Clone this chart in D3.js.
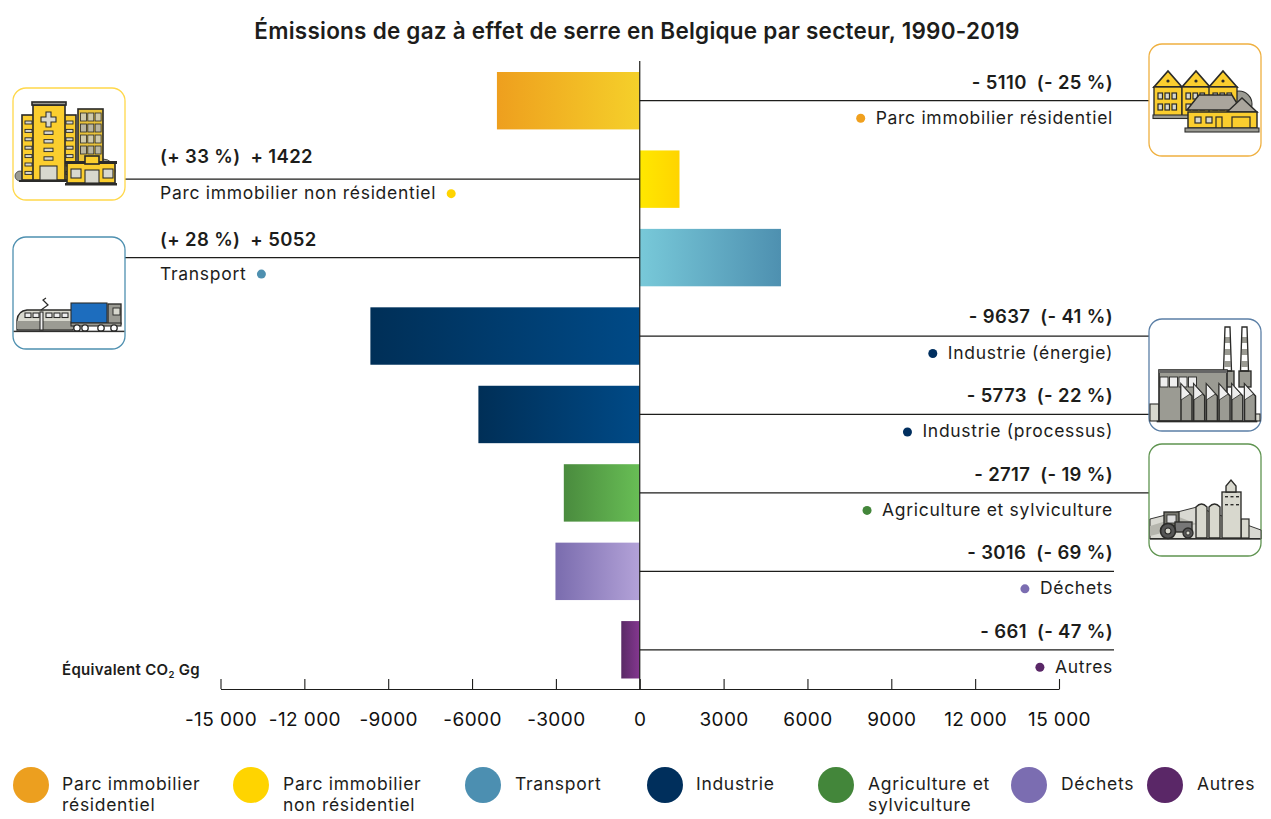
<!DOCTYPE html>
<html>
<head>
<meta charset="utf-8">
<script src="https://cdn.jsdelivr.net/npm/d3@7"></script>
<style>
  html, body { margin: 0; padding: 0; background: #fff; }
  svg { display: block; }
  text { font-family: Inter, "Noto Sans", sans-serif; fill: #1d1d1b; white-space: pre; }
  .val { font-size: 18.5px; font-weight: 600; letter-spacing: 0.35px; }
  .name { font-size: 17.5px; font-weight: 400; letter-spacing: 0.7px; }
  .tick text { font-size: 19px; font-weight: 400; fill: #111; letter-spacing: 0.4px; }
</style>
</head>
<body>
<div id="chart"></div>
<script>
// data
var categories = ["Parc immobilier résidentiel", "Parc immobilier non résidentiel", "Transport",
    "Industrie (énergie)", "Industrie (processus)", "Agriculture et sylviculture", "Déchets", "Autres"];
var values = [-5110, 1422, 5052, -9637, -5773, -2717, -3016, -661];
var percents = [-25, 33, 28, -41, -22, -19, -69, -47];
var barFrom = ["#EE9F1E", "#FFE800", "#78C9D9", "#002F57", "#002F57", "#4A8B3E", "#7A6CAE", "#5A2A66"];
var barTo = ["#F5D02A", "#FFD400", "#4E90B0", "#004A87", "#004A87", "#68BE55", "#B3A2D8", "#843790"];
var dotColors = ["#F0A01E", "#FFD400", "#4E90B0", "#002F5F", "#002F5F", "#43863A", "#7B6DB1", "#5A2767"];
var xTicks = [-15000, -12000, -9000, -6000, -3000, 0, 3000, 6000, 9000, 12000, 15000];
var xTickLabels = ["-15 000", "-12 000", "-9000", "-6000", "-3000", "0", "3000", "6000", "9000", "12 000", "15 000"];
var legendNames = [["Parc immobilier", "résidentiel"], ["Parc immobilier", "non résidentiel"], ["Transport"],
    ["Industrie"], ["Agriculture et", "sylviculture"], ["Déchets"], ["Autres"]];
var legendColors = ["#EC9F1F", "#FFD400", "#4C8FB1", "#002F5C", "#43863A", "#7B6DB1", "#5A2767"];

var width = 1271, height = 819;
var svg = d3.select("#chart").append("svg").attr("width", width).attr("height", height);
var defs = svg.append("defs");

var x = d3.scaleLinear().domain([-15000, 15000]).range([220.5, 1059]);
var y = d3.scaleBand().domain(categories).range([72, 678.5]).paddingInner(0.268);

// title
svg.append("text").attr("x", 637).attr("y", 39).attr("text-anchor", "middle")
    .style("font-size", "22.5px").style("font-weight", "600").style("letter-spacing", "0.24px")
    .text("Émissions de gaz à effet de serre en Belgique par secteur, 1990-2019");

// gradients, one per bar
categories.forEach(function (c, i) {
    var g = defs.append("linearGradient").attr("id", "bar" + i);
    g.append("stop").attr("offset", "0%").attr("stop-color", barFrom[i]);
    g.append("stop").attr("offset", "100%").attr("stop-color", barTo[i]);
});

// bars
svg.append("g").selectAll("rect").data(values).enter().append("rect")
    .attr("x", function (d) { return Math.min(x(d), x(0)); })
    .attr("y", function (d, i) { return y(categories[i]); })
    .attr("width", function (d) { return Math.abs(x(d) - x(0)); })
    .attr("height", y.bandwidth())
    .attr("fill", function (d, i) { return "url(#bar" + i + ")"; });

// leader lines and labels
var hasIcon = [true, true, true, true, true, true, false, false];
var valueShift = [0, -4, 0, -1, 0, 0, 0, 0];   // the second label sits a bit higher
var nameShift = [0, -3, -1, 0, 0, 0, 0, 0];
function valueText(i) {
    var v = Math.abs(values[i]), p = Math.abs(percents[i]);
    if (values[i] > 0) return "(+ " + p + " %)  + " + v;
    return "- " + v + "  (- " + p + " %)";
}
categories.forEach(function (c, i) {
    var cy = y(c) + y.bandwidth() / 2;
    var right = values[i] < 0;
    svg.append("line")
        .attr("x1", right ? x(0) : 125)
        .attr("x2", right ? (hasIcon[i] ? 1149 : 1114) : x(0))
        .attr("y1", cy).attr("y2", cy)
        .attr("stroke", "#1d1d1b").attr("stroke-width", 1.2);
    var tx = right ? 1113 : 160;
    var anchor = right ? "end" : "start";
    svg.append("text").attr("class", "val").attr("x", tx).attr("y", cy - 12 + valueShift[i])
        .attr("text-anchor", anchor).text(valueText(i));
    var name = svg.append("text").attr("class", "name").attr("x", tx).attr("y", cy + 23 + nameShift[i])
        .attr("text-anchor", anchor).text(c);
    var w = name.node().getComputedTextLength();
    svg.append("circle")
        .attr("cx", right ? tx - w - 15 : tx + w + 15)
        .attr("cy", cy + 17.5 + nameShift[i]).attr("r", 4.5)
        .attr("fill", dotColors[i]);
});

// axis
var axis = d3.axisBottom(x).tickValues(xTicks)
    .tickFormat(function (d, i) { return xTickLabels[i]; })
    .tickSize(-10).tickSizeOuter(0).tickPadding(24);
var axisG = svg.append("g").attr("transform", "translate(0,689)").call(axis);
axisG.selectAll("path, line").attr("stroke", "#1d1d1b").attr("stroke-width", 1.1);

// zero line
svg.append("line").attr("x1", x(0)).attr("x2", x(0)).attr("y1", 61).attr("y2", 689)
    .attr("stroke", "#1d1d1b").attr("stroke-width", 1.2);

// unit label
var unit = svg.append("text").attr("x", 62).attr("y", 675)
    .style("font-size", "15px").style("font-weight", "600").style("letter-spacing", "0.3px");
unit.append("tspan").text("Équivalent CO");
unit.append("tspan").attr("dy", 3).style("font-size", "9.5px").text("2");
unit.append("tspan").attr("dy", -3).text(" Gg");

// legend
var legendDotX = [31, 251, 483, 665, 836, 1029, 1165];
var legendTextX = [62, 283, 515, 696, 868, 1061, 1197];
legendNames.forEach(function (lines, i) {
    svg.append("circle").attr("cx", legendDotX[i]).attr("cy", 785).attr("r", 18).attr("fill", legendColors[i]);
    lines.forEach(function (t, j) {
        svg.append("text").attr("class", "name").attr("x", legendTextX[i]).attr("y", 790 + j * 21).text(t);
    });
});

// icons
var ink = "#2b2b29", yel = "#FBCE2E", gry = "#9b9b93", lgt = "#d8d8ce";
var sk = 1.35;
function iconBox(bx, by, color) {
    svg.append("rect").attr("x", bx).attr("y", by).attr("width", 112).attr("height", 112)
        .attr("rx", 13).attr("fill", "#fff").attr("stroke", color).attr("stroke-width", 1.3);
    return svg.append("g").attr("transform", "translate(" + bx + "," + by + ")");
}
function box(g, a, b, w, h, fill, sw) {
    return g.append("rect").attr("x", a).attr("y", b).attr("width", w).attr("height", h)
        .attr("fill", fill).attr("stroke", ink).attr("stroke-width", (sw === undefined ? 1.2 : sw) * sk);
}
function poly(g, pts, fill, sw) {
    return g.append("polygon").attr("points", pts).attr("fill", fill)
        .attr("stroke", ink).attr("stroke-width", (sw === undefined ? 1.2 : sw) * sk);
}
function disc(g, a, b, r, fill, sw) {
    return g.append("circle").attr("cx", a).attr("cy", b).attr("r", r).attr("fill", fill)
        .attr("stroke", ink).attr("stroke-width", (sw === undefined ? 1.2 : sw) * sk);
}
function blob(g, d, fill, sw) {
    return g.append("path").attr("d", d).attr("fill", fill)
        .attr("stroke", ink).attr("stroke-width", sw * sk);
}

// hospital and shop
var g1 = iconBox(13, 88, "#FFD84A");
disc(g1, 90, 83, 12, gry, 0.6);
disc(g1, 7, 88, 5, gry, 0.5);
box(g1, 9, 27, 54, 65, yel);
box(g1, 20, 17, 32, 75, yel);
box(g1, 19, 14, 34, 3, gry);
d3.range(7).forEach(function (k) {
    box(g1, 12, 33 + k * 8.4, 7, 3, lgt, 0.7);
    box(g1, 53, 33 + k * 8.4, 7, 3, lgt, 0.7);
});
d3.range(4).forEach(function (k) { box(g1, 31, 43 + k * 8.6, 9, 3.4, lgt, 0.7); });
blob(g1, "M33 24h5v5h5v5h-5v5h-5v-5h-5v-5h5z", lgt, 0.8);
box(g1, 27, 78, 17, 14, lgt, 0.8);
box(g1, 65, 21, 25, 55, "#E9C33A");
d3.range(4).forEach(function (r) {
    d3.range(3).forEach(function (c) { box(g1, 67.5 + c * 7.3, 25 + r * 11, 6, 8, r % 2 ? "#b9b5a0" : "#cfc9aa", 0.6); });
});
box(g1, 6, 92, 56, 2, ink, 0);
box(g1, 54, 75, 48, 20, yel);
box(g1, 52, 73, 52, 3, ink, 0);
box(g1, 72, 68, 14, 8, yel);
box(g1, 58, 81, 10, 9, lgt, 0.8);
box(g1, 72, 82, 14, 13, lgt, 0.8);
box(g1, 90, 81, 10, 9, lgt, 0.8);
box(g1, 52, 95, 52, 2.5, ink, 0);

// train and truck
var g2 = iconBox(13, 237, "#4E90B0");
blob(g2, "M4 93v-10q1-9 10-10h46v20z", lgt, 1);
g2.append("rect").attr("x", 4).attr("y", 84).attr("width", 56).attr("height", 8).attr("fill", gry);
[12, 20, 33, 41, 49].forEach(function (a) { box(g2, a, 76, 6, 4.5, "#eee", 0.8); });
box(g2, 27, 75, 3, 18, "#eee", 0.8);
blob(g2, "M28 73l7-5-5-5 3-2", "none", 0.9);
box(g2, 58, 66, 36, 20, "#1D6DBE", 0.8);
box(g2, 95, 67, 13, 20, gry, 1);
box(g2, 100, 71, 7, 7, lgt, 0.7);
box(g2, 58, 86, 50, 3, gry, 0.8);
[64, 72, 88, 101].forEach(function (a) { disc(g2, a, 91, 3.2, "#fff", 1); });
box(g2, 1, 94, 110, 0.8, ink, 0.5);

// houses
var g3 = iconBox(1149, 44, "#EFB040");
disc(g3, 90, 60, 13, gry, 0.8);
[19, 47, 74].forEach(function (p) {
    poly(g3, (p - 14) + ",43 " + p + ",27 " + (p + 14) + ",43", yel, 1.3);
    box(g3, p - 14, 43, 28, 29, yel, 1);
    disc(g3, p, 37, 1.6, ink, 0);
    [-10, -3, 4].forEach(function (o) {
        box(g3, p + o, 49, 4.5, 6, lgt, 0.9);
        box(g3, p + o, 60, 4.5, 6, lgt, 0.9);
    });
});
box(g3, 4, 71, 85, 3.5, gry, 0.8);
poly(g3, "38,66 50,51 83,51 92,66", "#aaa59c", 1.1);
poly(g3, "78,68 93,54 108,68", "#aaa59c", 1.1);
box(g3, 39, 68, 69, 16, yel, 1.1);
box(g3, 46, 73, 6, 6, lgt, 0.9);
box(g3, 57, 73, 6, 6, lgt, 0.9);
box(g3, 67, 73, 6, 11, yel, 0.9);
box(g3, 83, 73, 18, 11, yel, 0.9);
box(g3, 36, 84, 74, 4, gry, 0.8);

// factory
var g4 = iconBox(1149, 319, "#5B7FA6");
box(g4, 1, 85, 9, 17, lgt, 0.8);
box(g4, 104, 95, 7, 7, lgt, 0.8);
[75, 92].forEach(function (a) {
    box(g4, a - 2, 52, 12, 16, gry, 1);
    [18, 30, 42].forEach(function (b) {
        box(g4, a + 0.6, b, 6, 6, gry, 0);
    });
    poly(g4, (a + 1) + ",8 " + (a + 6) + ",8 " + (a + 7.5) + ",52 " + (a - 0.5) + ",52", "none", 1);
});
box(g4, 10, 51, 68, 51, gry, 1.2);
box(g4, 10, 51, 68, 3, "#666", 0);
d3.range(4).forEach(function (k) { box(g4, 11 + k * 9.5, 58, 8, 10, "#eee", 0.7); });
d3.range(6).forEach(function (k) {
    var a = 32 + k * 12.7;
    poly(g4, a + ",65 " + (a + 11) + ",77 " + (a + 11) + ",102 " + a + ",102", gry, 1.1);
    poly(g4, a + ",65 " + (a + 9) + ",75 " + a + ",81", "#eee", 0.6);
});
box(g4, 8, 102, 100, 1, ink, 0.5);

// farm
var g5 = iconBox(1149, 444, "#5F9450");
blob(g5, "M1 75L48 63L112 86V95H1z", "#d9d9d2", 0.7);
blob(g5, "M1 82L30 73L48 80L1 92z", "#b5b5ad", 0);
box(g5, 15, 68, 15, 14, "#77776f", 1);
box(g5, 18, 71, 9, 8, "#ddd", 0.6);
box(g5, 26, 78, 17, 10, "#777", 1);
disc(g5, 19, 87, 7.5, "#555", 1.2);
disc(g5, 19, 87, 3, lgt, 0.8);
disc(g5, 39, 89, 5, "#555", 1);
disc(g5, 39, 89, 2, lgt, 0.6);
[47, 60].forEach(function (a) {
    blob(g5, "M" + a + " 94V63q5.5-6 11 0V94z", lgt, 1);
});
box(g5, 92, 75, 8, 19, lgt, 0.9);
box(g5, 73, 48, 19, 46, lgt, 1);
blob(g5, "M77 48V42l5-6 5 6V48z", lgt, 1);
[52, 60].forEach(function (r) {
    [76, 81.5, 87].forEach(function (a) { box(g5, a, r, 3, 1.4, ink, 0); });
});
box(g5, 1, 94, 110, 1.4, ink, 0);
</script>
</body>
</html>
